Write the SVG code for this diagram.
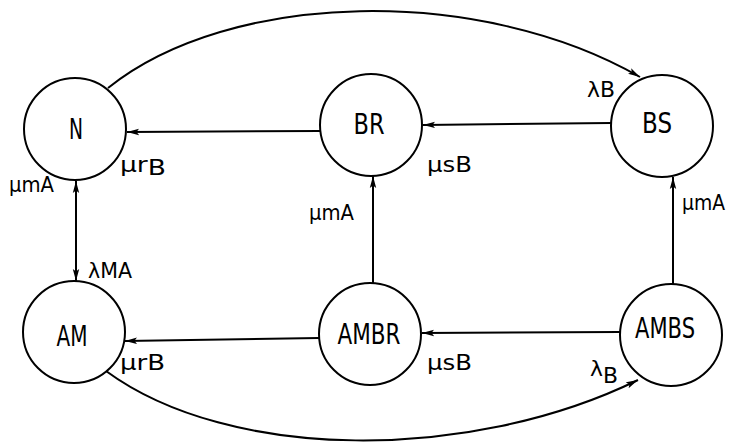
<svg xmlns="http://www.w3.org/2000/svg" width="730" height="443" viewBox="0 0 730 443">
  <defs>
    <marker id="arrow" viewBox="0 0 12 8" refX="12" refY="4" markerWidth="12" markerHeight="8" markerUnits="userSpaceOnUse" orient="auto-start-reverse">
      <path d="M0,0.8 L12,4 L0,7.2 L2.5,4 Z" fill="#000"/>
    </marker>
    <style>
      .node circle { fill: #fff; stroke: #000; stroke-width: 2; }
      .node text { font-family: "DejaVu Sans", "Liberation Sans", sans-serif; font-size: 28px; fill: #000; text-anchor: middle; }
      .edge { fill: none; stroke: #000; stroke-width: 2; }
      .lbl { font-family: "DejaVu Sans", "Liberation Sans", sans-serif; font-size: 21px; fill: #000; }
    </style>
  </defs>

  <g id="connectors">
    <path class="edge" d="M320,131 L127,132" marker-end="url(#arrow)"/>
    <path class="edge" d="M611,123 L423,125" marker-end="url(#arrow)"/>
    <path class="edge" d="M319,338 L125,341" marker-end="url(#arrow)"/>
    <path class="edge" d="M620,332 L422,333" marker-end="url(#arrow)"/>
    <path class="edge" d="M373,283 L373,176" marker-end="url(#arrow)"/>
    <path class="edge" d="M673,284 L673,177" marker-end="url(#arrow)"/>
    <path class="edge" d="M76,181 L76,281" marker-start="url(#arrow)" marker-end="url(#arrow)"/>
    <path class="edge" d="M108,88 C230,-10 480,-15 640,77" marker-end="url(#arrow)"/>
    <path class="edge" d="M106,371 C230,462 470,462 638,380" marker-end="url(#arrow)"/>

    <text class="lbl" x="120" y="172" textLength="46" lengthAdjust="spacingAndGlyphs">μr<tspan dy="3">B</tspan></text>
    <text class="lbl" x="427" y="172" textLength="45" lengthAdjust="spacingAndGlyphs">μsB</text>
    <text class="lbl" x="587" y="97" textLength="28" lengthAdjust="spacingAndGlyphs">λB</text>
    <text class="lbl" x="9" y="192" textLength="45" lengthAdjust="spacingAndGlyphs">μmA</text>
    <text class="lbl" x="88" y="278" textLength="44" lengthAdjust="spacingAndGlyphs">λMA</text>
    <text class="lbl" x="309" y="220" textLength="45" lengthAdjust="spacingAndGlyphs">μmA</text>
    <text class="lbl" x="682" y="210" textLength="43" lengthAdjust="spacingAndGlyphs">μmA</text>
    <text class="lbl" x="120" y="370" textLength="45" lengthAdjust="spacingAndGlyphs">μrB</text>
    <text class="lbl" x="427" y="370" textLength="45" lengthAdjust="spacingAndGlyphs">μsB</text>
    <text class="lbl" x="590" y="376" textLength="28" lengthAdjust="spacingAndGlyphs">λ<tspan dy="7">B</tspan></text>
  </g>

  <g id="N" class="node">
    <circle cx="75" cy="129" r="51"/>
    <text x="76" y="139" textLength="14" lengthAdjust="spacingAndGlyphs">N</text>
  </g>
  <g id="BR" class="node">
    <circle cx="371" cy="125" r="51"/>
    <text x="369" y="134" textLength="31" lengthAdjust="spacingAndGlyphs">BR</text>
  </g>
  <g id="BS" class="node">
    <circle cx="662" cy="126" r="51"/>
    <text x="657" y="133" textLength="30" lengthAdjust="spacingAndGlyphs">BS</text>
  </g>
  <g id="AM" class="node">
    <circle cx="74" cy="332" r="51"/>
    <text x="72" y="346" textLength="31" lengthAdjust="spacingAndGlyphs">AM</text>
  </g>
  <g id="AMBR" class="node">
    <circle cx="370" cy="334" r="51"/>
    <text x="369" y="344" textLength="63" lengthAdjust="spacingAndGlyphs">AMBR</text>
  </g>
  <g id="AMBS" class="node">
    <circle cx="671" cy="335" r="51"/>
    <text x="665" y="338" textLength="60" lengthAdjust="spacingAndGlyphs">AMBS</text>
  </g>
</svg>
